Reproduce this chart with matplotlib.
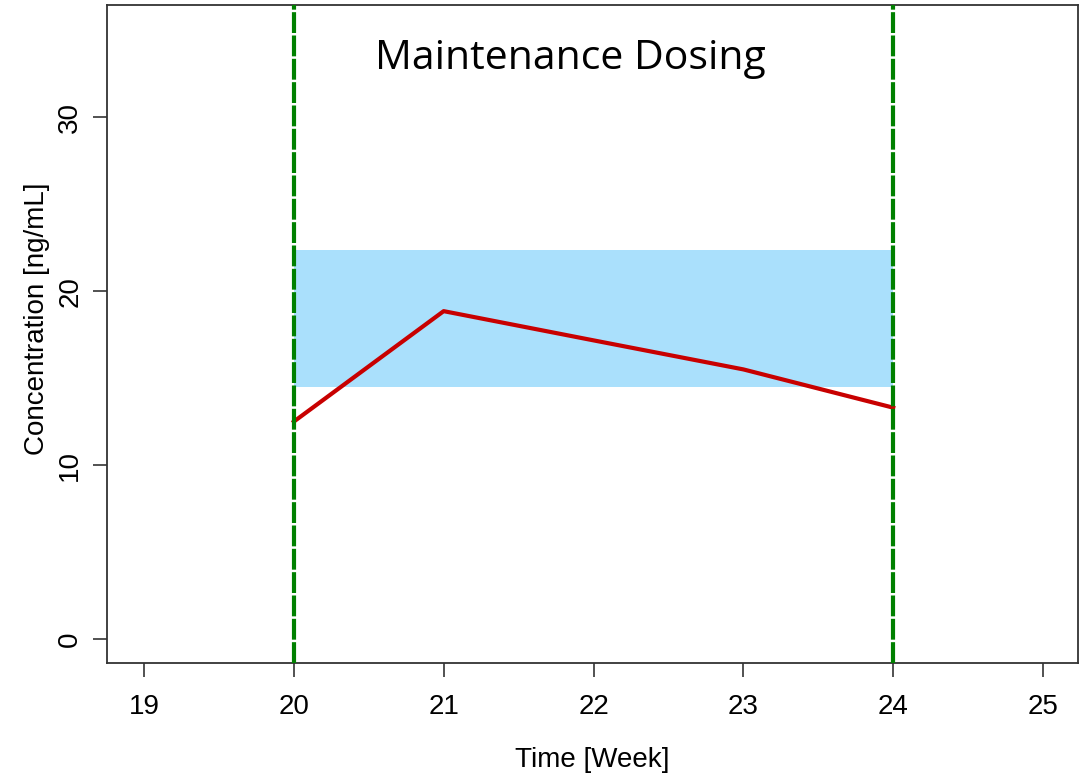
import matplotlib.pyplot as plt

# weeks and concentration (ng/mL)
weeks = [20, 21, 22, 23, 24]
conc = [12.5, 18.85, 17.17, 15.5, 13.3]

# target band
band_lo = 14.5
band_hi = 22.35
band_start = 20
band_end = 24

# dose markers
dose_weeks = [20, 24]

xticks = [19, 20, 21, 22, 23, 24, 25]
yticks = [0, 10, 20, 30]

plt.rcParams['font.family'] = ['Liberation Sans', 'DejaVu Sans']

fig = plt.figure(figsize=(10.86, 7.73), dpi=100)
ax = fig.add_axes([0.0985, 0.1423, 0.8941, 0.8512])

ax.fill_between([band_start, band_end], band_lo, band_hi, color='#aae0fc', lw=0, zorder=1)
ax.plot(weeks, conc, color='#c80000', lw=3, zorder=3)
for w in dose_weeks:
    ax.axvline(w, color='#008000', lw=3, linestyle=(0, (5, 0.6)), zorder=4)

ax.set_xlim(18.753, 25.233)
ax.set_ylim(-1.38, 36.45)
ax.set_xticks(xticks)
ax.set_yticks(yticks)
ax.tick_params(axis='both', direction='out', length=10, width=1.2, labelsize=20, color='#333333')
ax.tick_params(axis='x', pad=12)
ax.tick_params(axis='y', pad=7)
for lab in ax.get_yticklabels():
    lab.set_rotation(90)
    lab.set_va('center')
for s in ax.spines.values():
    s.set_linewidth(1.3)
    s.set_color('#333333')

ax.set_xlabel('Time [Week]', fontsize=20, labelpad=20)
ax.set_ylabel('Concentration [ng/mL]', fontsize=20, labelpad=5)
ax.yaxis.label.set_y(0.523)

ax.text(0.477, 0.918, 'Maintenance Dosing', transform=ax.transAxes, ha='center', va='center',
        fontsize=29.5, family=['Open Sans', 'DejaVu Sans'])

fig.savefig('out.png', dpi=100)
